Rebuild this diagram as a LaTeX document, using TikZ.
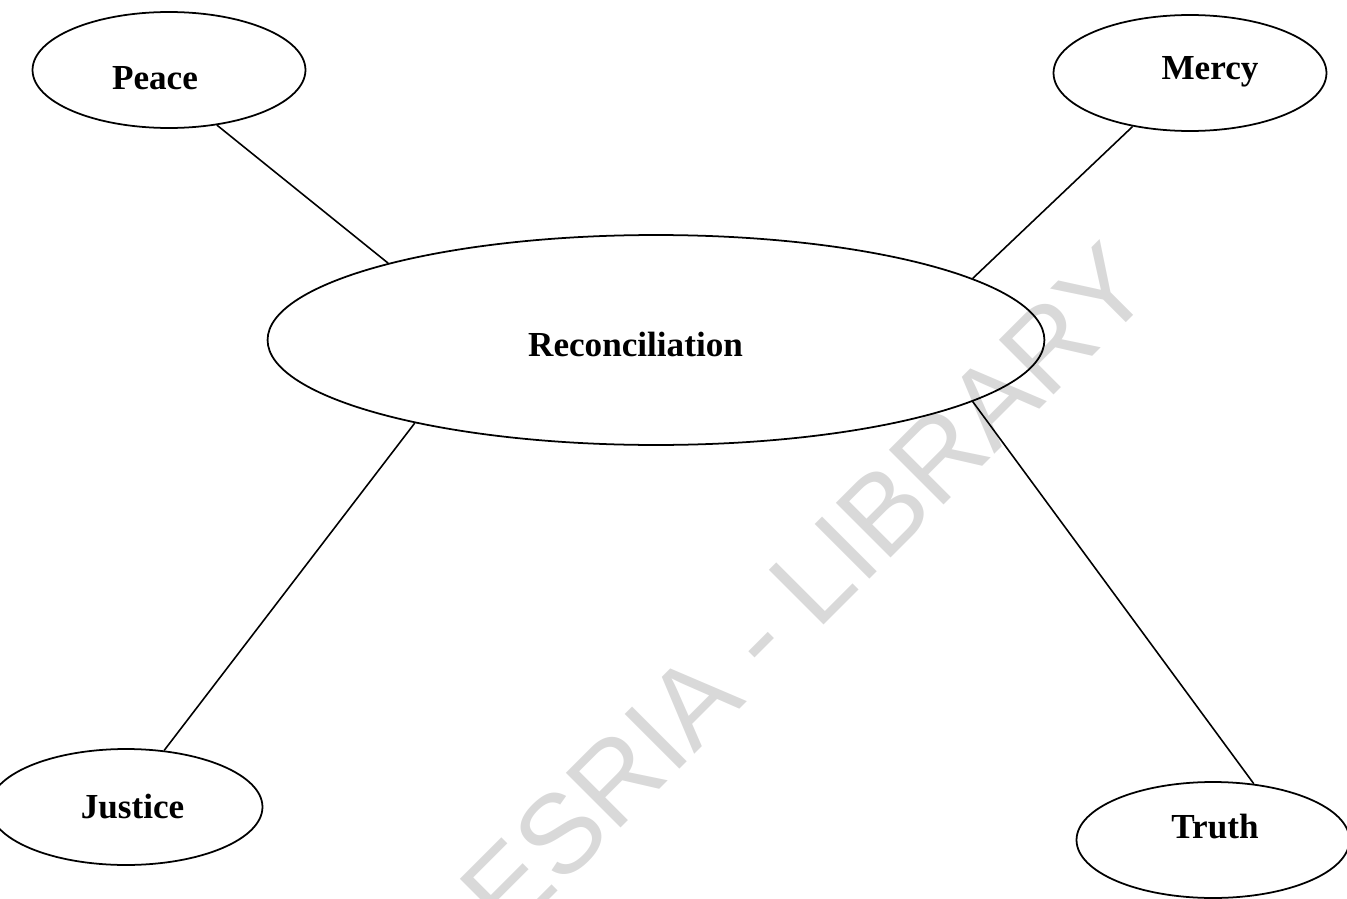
\documentclass[tikz,border=0pt]{standalone}
\usepackage{fontspec}
\setmainfont{Liberation Serif}
\newfontfamily\markfont{Liberation Sans}
\usetikzlibrary{shapes.geometric}
\definecolor{markgray}{gray}{0.85}

\begin{document}
\begin{tikzpicture}[x=0.02cm,y=-0.02cm,
  bubble/.style={draw,ellipse,line width=1pt,inner sep=0pt,
    minimum width=5.46cm,minimum height=2.32cm},
  word/.style={inner sep=0pt,text height=13.2pt,text depth=0pt,
    font=\fontsize{20}{24}\selectfont\bfseries},
  link/.style={line width=0.9pt}]
\useasboundingbox (0,0) rectangle (1347,899);
\clip (0,0) rectangle (1347,899);
\node[rotate=45,anchor=base east,inner sep=0pt,text=markgray,
  font=\markfont\fontsize{64}{64}\selectfont] (W) at (1157,292) {CODESRIA - LIBRARY};
\node[bubble,minimum width=15.54cm,minimum height=4.2cm,
  label={[word,xshift=-0.41cm,yshift=-0.09cm]center:Reconciliation}] (R) at (656,340) {};
\node[bubble,label={[word,xshift=-0.28cm,yshift=-0.16cm]center:Peace}] (P) at (169,70) {};
\node[bubble,label={[word,xshift=0.40cm,yshift=0.11cm]center:Mercy}] (M) at (1190,73) {};
\node[bubble,label={[word,xshift=0.13cm]center:Justice}] (J) at (126,807) {};
\node[bubble,label={[word,xshift=0.04cm,yshift=0.27cm]center:Truth}] (T) at (1213,840) {};
\draw[link] (P.-49) -- (R.164);
\draw[link] (M.-137) -- (R.11);
\draw[link] (J.56) -- (R.-161);
\draw[link] (T.54) -- (R.-11);
\end{tikzpicture}
\end{document}
